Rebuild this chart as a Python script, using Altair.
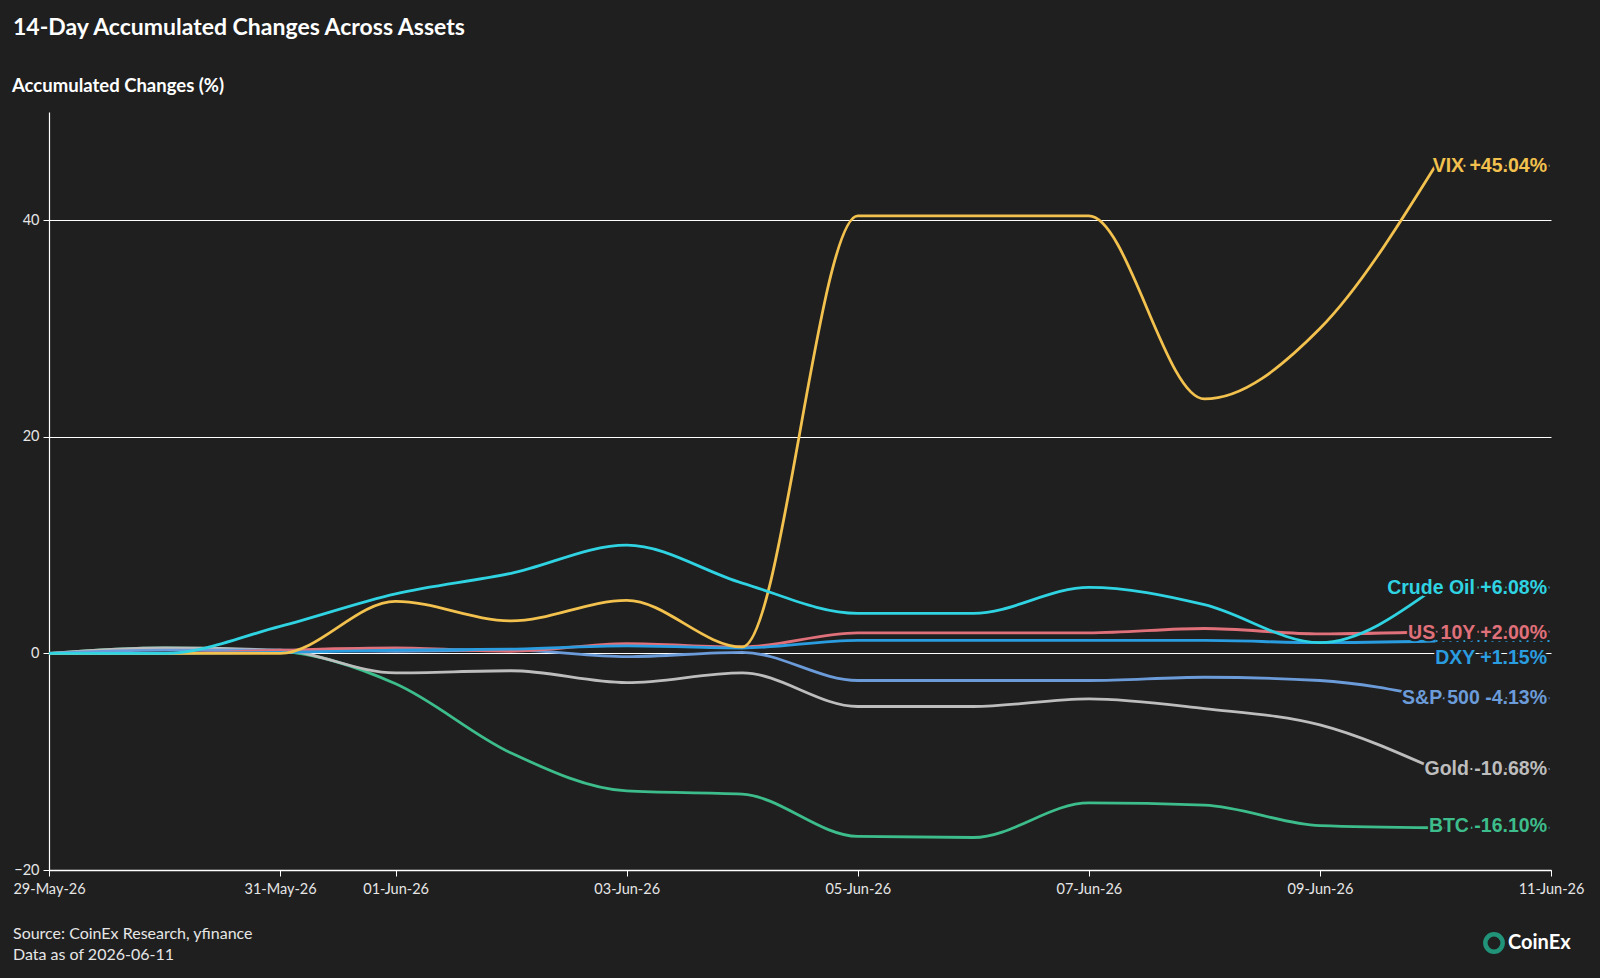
import altair as alt
import pandas as pd

# ---------------- data ----------------
dates = ["2026-05-29", "2026-05-30", "2026-05-31", "2026-06-01", "2026-06-02",
         "2026-06-03", "2026-06-04", "2026-06-05", "2026-06-06", "2026-06-07",
         "2026-06-08", "2026-06-09", "2026-06-10"]

series_names = ["BTC", "Gold", "S&P 500", "US 10Y", "DXY", "VIX", "Crude Oil"]
series_colors = ["#3dbd8b", "#bdbdbd", "#6b9bd8", "#e0707a", "#2a9de0", "#f2c14e", "#2fd3e2"]

btc = [0, 0.5, 0.2, -2.8, -9.2, -12.7, -13.0, -16.9, -17.0, -13.8, -14.0, -15.9, -16.10]
gold = [0, 0.5, 0.3, -1.8, -1.6, -2.7, -1.8, -4.9, -4.9, -4.2, -5.1, -6.6, -10.68]
spx = [0, 0.3, 0.3, 0.2, 0.3, -0.3, 0.1, -2.5, -2.5, -2.5, -2.2, -2.5, -4.13]
us10y = [0, 0, 0.3, 0.5, 0.2, 0.9, 0.6, 1.9, 1.9, 1.9, 2.3, 1.8, 2.00]
dxy = [0, 0, 0.1, 0.3, 0.4, 0.7, 0.5, 1.2, 1.2, 1.2, 1.2, 1.0, 1.15]
vix = [0, 0, 0, 4.8, 3.0, 4.9, 0.6, 40.4, 40.4, 40.4, 23.5, 30.0, 45.04]
crude = [0, 0, 2.5, 5.5, 7.4, 10.0, 6.5, 3.7, 3.7, 6.1, 4.5, 1.0, 6.08]

series_values = [btc, gold, spx, us10y, dxy, vix, crude]

end_labels = ["BTC -16.10%", "Gold -10.68%", "S&P 500 -4.13%", "US 10Y +2.00%",
              "DXY +1.15%", "VIX +45.04%", "Crude Oil +6.08%"]
label_y = [-15.9, -10.68, -4.13, 1.9, -0.4, 45.04, 6.04]

tick_dates = ["2026-05-29", "2026-05-31", "2026-06-01", "2026-06-03",
              "2026-06-05", "2026-06-07", "2026-06-09", "2026-06-11"]
y_ticks = [-20, 0, 20, 40]
end_date = "2026-06-11"

title_text = "14-Day Accumulated Changes Across Assets"
y_title_text = "Accumulated Changes (%)"
source_text = "Source: CoinEx Research, yfinance"
asof_text = "Data as of 2026-06-11"
logo_text = "CoinEx"

BG = "#1f1f1f"

# ---------------- tables ----------------
rows = []
for name, vals in zip(series_names, series_values):
    for d, v in zip(dates, vals):
        rows.append({"date": d, "series": name, "value": v})
df = pd.DataFrame(rows)

lab = pd.DataFrame({
    "series": series_names,
    "label": end_labels,
    "label_y": label_y,
    "last": [v[-1] for v in series_values],
    "start": [dates[-1]] * len(series_names),
    "end": [end_date] * len(series_names),
})


def dt(s):
    y, m, d = s.split("-")
    return alt.DateTime(year=int(y), month=int(m), date=int(d), utc=True)


color = alt.Color("series:N", scale=alt.Scale(domain=series_names, range=series_colors), legend=None)

xscale = alt.Scale(type="utc", domain=[dt(tick_dates[0]), dt(end_date)])
yscale = alt.Scale(domain=[-20, 50], nice=False)

x_axis = alt.Axis(values=[dt(t) for t in tick_dates],
                  labelExpr="utcFormat(datum.value, '%d-%b-%y')",
                  title=None, grid=False, tickSize=6, labelPadding=6,
                  labelFontSize=14.5, labelFont="Lato", labelColor="#e6e6e6",
                  domainColor="#ffffff", tickColor="#ffffff", domainWidth=1.5,
                  labelOverlap=False, labelFlush=False)
y_axis = alt.Axis(values=y_ticks, title=None, grid=True, gridColor="#ffffff",
                  gridWidth=1.2, tickSize=6, labelPadding=4, labelFontSize=14.5,
                  labelFont="Lato", labelColor="#e6e6e6", domainColor="#ffffff",
                  tickColor="#ffffff", domainWidth=1.2)

lines = alt.Chart(df).mark_line(interpolate="monotone", strokeWidth=2.8).encode(
    x=alt.X("date:T", scale=xscale, axis=x_axis),
    y=alt.Y("value:Q", scale=yscale, axis=y_axis),
    color=color,
    detail="series:N",
)

leaders = alt.Chart(lab).mark_rule(strokeWidth=2, strokeDash=[2, 5]).encode(
    x=alt.X("start:T", scale=xscale),
    x2="end:T",
    y=alt.Y("last:Q", scale=yscale),
    color=color,
)

halo = alt.Chart(lab).mark_text(align="right", baseline="middle", dx=-4,
                                font="Liberation Sans", fontWeight="bold", fontSize=19.5,
                                fill=BG, stroke=BG, strokeWidth=4.5).encode(
    x=alt.X("end:T", scale=xscale),
    y=alt.Y("label_y:Q", scale=yscale),
    text="label:N",
)

labels = alt.Chart(lab).mark_text(align="right", baseline="middle", dx=-4,
                                  font="Liberation Sans", fontWeight="bold", fontSize=19.5).encode(
    x=alt.X("end:T", scale=xscale),
    y=alt.Y("label_y:Q", scale=yscale),
    text="label:N",
    color=color,
)


def free_text(txt, x, y, size, weight="normal", align="left", color="#ffffff", font="Lato"):
    return alt.Chart(pd.DataFrame({"t": [txt]})).mark_text(
        align=align, baseline="middle", fontSize=size, fontWeight=weight, font=font, color=color
    ).encode(x=alt.value(x), y=alt.value(y), text="t:N")


title = free_text(title_text, -36, -84, 23, "bold")
ytitle = free_text(y_title_text, -37, -26, 18.5, "bold")
source = free_text(source_text, -36, 822, 16, color="#e6e6e6")
asof = free_text(asof_text, -36, 843, 16, color="#e6e6e6")
logo_icon = alt.Chart(pd.DataFrame({"t": [0]})).mark_point(
    shape="circle", filled=False, size=300, strokeWidth=4.5, color="#22c4a0"
).encode(x=alt.value(1445), y=alt.value(831))
logo = free_text(logo_text, 1459, 831, 20, "bold", color="#ffffff")

chart = alt.layer(lines, leaders, halo, labels, title, ytitle, source, asof, logo_icon, logo).properties(
    width=1502, height=758,
    background=BG,
    padding={"left": 49, "top": 112, "right": 49, "bottom": 108},
    autosize=alt.AutoSizeParams(type="none"),
).configure_view(stroke=None)

chart.save("out.html", embed_options={"renderer": "svg", "actions": False})
